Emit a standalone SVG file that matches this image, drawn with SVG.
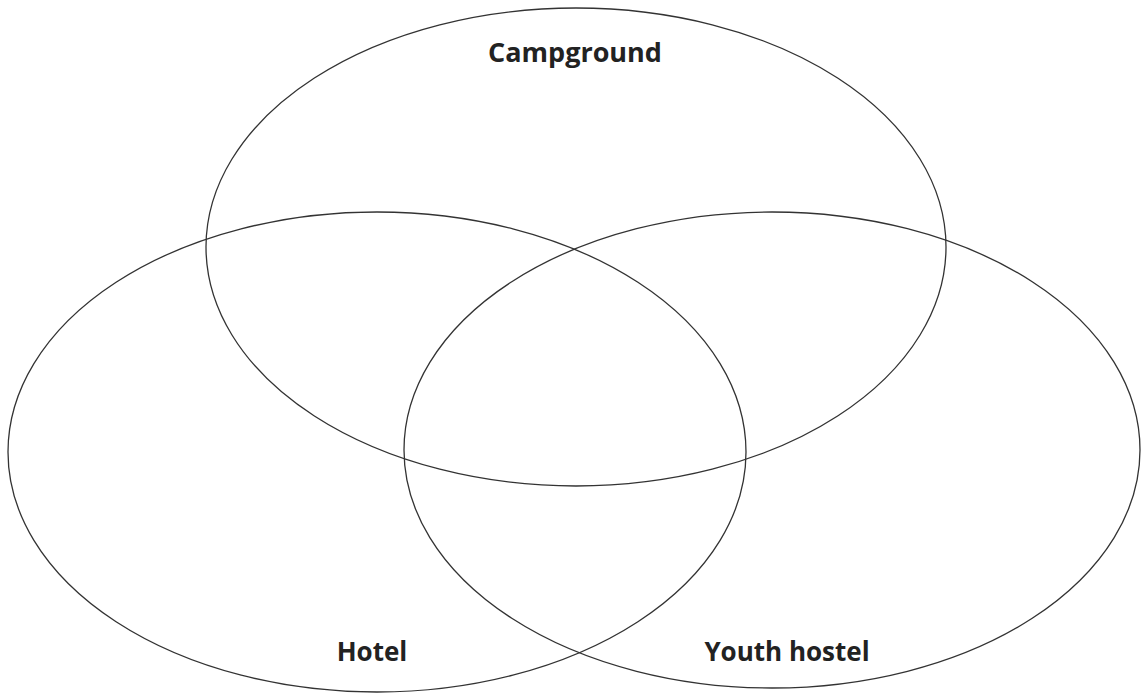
<svg xmlns="http://www.w3.org/2000/svg" width="1142" height="694" viewBox="0 0 1142 694">
<style>
.c{fill:none;stroke:#333;stroke-width:1.3}
.t{font-family:"Open Sans","Liberation Sans",sans-serif;font-weight:bold;font-size:26px;fill:#222;text-anchor:middle}
</style>
<rect width="1142" height="694" fill="#fff"/>
<g id="campground">
<ellipse class="c" cx="576" cy="247" rx="370" ry="239"/>
<text class="t" x="575" y="62" style="font-size:27px">Campground</text>
</g>
<g id="hotel">
<ellipse class="c" cx="377" cy="452" rx="369" ry="240"/>
<text class="t" x="372" y="661">Hotel</text>
</g>
<g id="youth-hostel">
<ellipse class="c" cx="772" cy="450" rx="368" ry="238"/>
<text class="t" x="787" y="661">Youth hostel</text>
</g>
</svg>
